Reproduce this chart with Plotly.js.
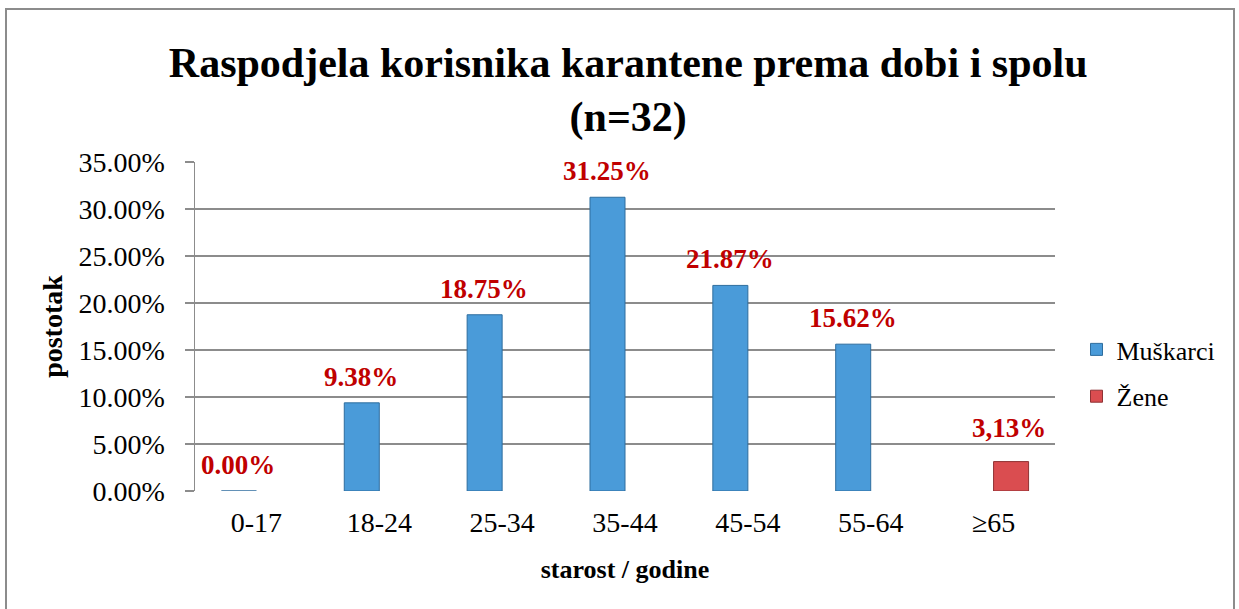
<!DOCTYPE html>
<html>
<head>
<meta charset="utf-8">
<script src="https://cdn.plot.ly/plotly-3.0.1.min.js"></script>
<style>
html,body{margin:0;padding:0;background:#fff;}
#wrap{position:relative;width:1239px;height:609px;}
#chart{width:1239px;height:609px;}
#frame{position:absolute;left:5px;top:8px;width:1226px;height:620px;border:2px solid #8c8c8c;pointer-events:none;}
</style>
</head>
<body>
<div id="wrap"><div id="chart"></div><div id="frame"></div></div>
<script>
const categories = ['0-17','18-24','25-34','35-44','45-54','55-64','≥65'];
const muskarci = [0.0, 9.38, 18.75, 31.25, 21.87, 15.62, null];
const zene = [null, null, null, null, null, null, 3.13];
const muskarciLabels = ['0.00%','9.38%','18.75%','31.25%','21.87%','15.62%',''];
const zeneLabels = ['','','','','','','3,13%'];
const yTicks = [0,5,10,15,20,25,30,35];
const yTickText = yTicks.map(v => v.toFixed(2) + '%');

const serif = 'Liberation Serif';
const labelColor = '#c00000';

const traces = [
  {type:'bar', name:'Muškarci', x:categories, y:muskarci, legendgroup:'m',
   marker:{color:'#4a9bd9', line:{color:'#2e6d9e', width:1}}, hoverinfo:'x+y'},
  {type:'bar', name:'Žene', x:categories, y:zene, legendgroup:'z',
   marker:{color:'#da4d50', line:{color:'#8f3234', width:1}}, hoverinfo:'x+y'}
];

const annotations = [];
categories.forEach((c,i)=>{
  if (muskarci[i] !== null && muskarciLabels[i]) {
    annotations.push({x:c, y:muskarci[i], xref:'x', yref:'y', text:muskarciLabels[i], showarrow:false,
      xshift:-18, yshift:26, font:{family:serif, size:27, color:labelColor, weight:'bold'}});
  }
  if (zene[i] !== null && zeneLabels[i]) {
    annotations.push({x:c, y:zene[i], xref:'x', yref:'y', text:zeneLabels[i], showarrow:false,
      xshift:15, yshift:34, font:{family:serif, size:27, color:labelColor, weight:'bold'}});
  }
});

const layout = {
  width:1239, height:609,
  margin:{l:195, r:184, t:162, b:118},
  paper_bgcolor:'#ffffff', plot_bgcolor:'#ffffff',
  barmode:'group', bargap:0.43, bargroupgap:0,
  font:{family:serif, color:'#000'},
  title:{text:'Raspodjela korisnika karantene prema dobi i spolu<br>(n=32)',
    font:{family:serif, size:42, color:'#000', weight:'bold'}, x:0.507, xanchor:'center', y:0.874, yanchor:'middle', yref:'container'},
  xaxis:{type:'category', tickfont:{family:serif, size:28, color:'#000'}, ticks:'', ticklabelstandoff:12,
    showgrid:false, showline:false, zeroline:false,
    title:{text:'starost / godine', font:{family:serif, size:26, color:'#000', weight:'bold'}, standoff:22}},
  yaxis:{range:[0,35], tickvals:yTicks, ticktext:yTickText, tickfont:{family:serif, size:28, color:'#000'},
    ticks:'outside', ticklen:9, tickcolor:'#8c8c8c', tickwidth:1.5, ticklabelstandoff:14,
    showgrid:true, gridcolor:'#8c8c8c', gridwidth:1.5, showline:true, linecolor:'#8c8c8c', linewidth:1.5,
    zeroline:false,
    title:{text:'postotak', font:{family:serif, size:28, color:'#000', weight:'bold'}, standoff:8}},
  legend:{x:1.025, xanchor:'left', y:0.3587, yanchor:'middle', font:{family:serif, size:26, color:'#000'},
    traceorder:'grouped', tracegroupgap:10, bgcolor:'rgba(0,0,0,0)'},
  annotations:annotations,
  showlegend:true
};

Plotly.newPlot('chart', traces, layout, {displayModeBar:false, staticPlot:true});
</script>
</body>
</html>
